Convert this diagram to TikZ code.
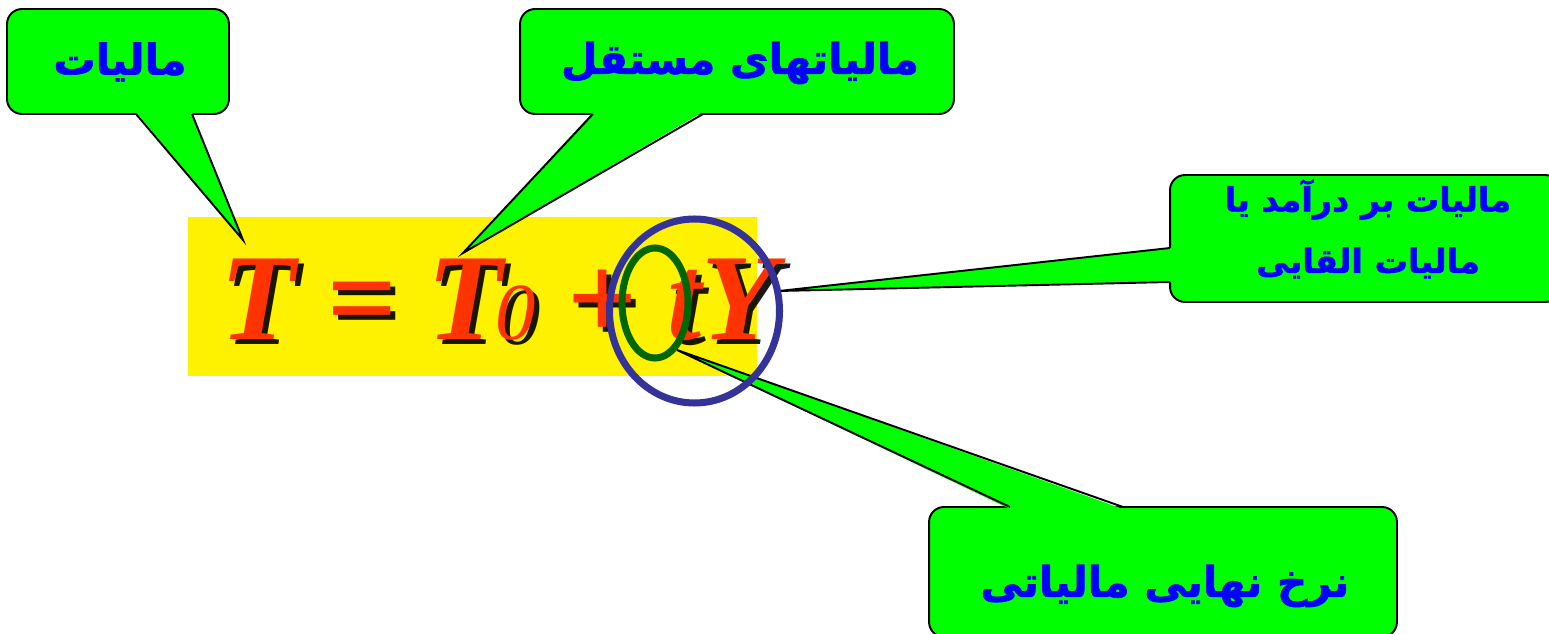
\documentclass[tikz,border=0pt]{standalone}
\usepackage{fontspec}
\newfontfamily\arabicfont[Script=Arabic, BoldFeatures={FakeBold=1.6}]{DejaVu Sans}
\newfontfamily\eqfont{Liberation Serif}
\TeXXeTstate=1
\definecolor{boxgreen}{HTML}{00FF00}
\definecolor{textblue}{HTML}{0000FF}
\definecolor{eqred}{HTML}{FF3300}
\definecolor{ringblue}{HTML}{333399}
\definecolor{ringgreen}{HTML}{006600}
\tikzset{
  callbox/.style = {draw, line width=1.1pt, fill=boxgreen, rounded corners=0.3cm, inner sep=0pt},
  calltext/.style = {text=textblue, align=center, font=\arabicfont\bfseries\fontsize{24}{30}\selectfont},
  smalltext/.style = {calltext, font=\arabicfont\bfseries\fontsize{19}{35}\selectfont},
  eqtext/.style = {inner sep=0pt, anchor=base west, font=\eqfont\bfseries\itshape\fontsize{70}{70}\selectfont}
}
\newcommand{\eqbody}{T = T\kern-4pt{\fontsize{46}{46}\selectfont\mdseries 0} + tY}
\begin{document}
\begin{tikzpicture}[x = 0.02cm, y = -0.02cm]
\useasboundingbox (0,0) rectangle (1549,634);
\clip (0,0) rectangle (1549,634);
% yellow band behind the formula
\fill[yellow] (188,217) rectangle (757,376);
\node[eqtext, text=black, opacity=0.9] (eqshadow) at (225,345) {\eqbody};
\node[eqtext, text=eqred] (eq) at (220,340) {\eqbody};
% boxes
\node[callbox, minimum width=4.44cm, minimum height=2.1cm] (tax) at (118,61.5) {};
\node[calltext] (taxtext) at (120,62) {\beginR مالیات\endR};
\node[callbox, minimum width=8.68cm, minimum height=2.1cm] (direct) at (737,61.5) {};
\node[calltext] (directtext) at (740,63) {\beginR مالیاتهای مستقل\endR};
\node[callbox, minimum width=7.8cm, minimum height=2.54cm] (income) at (1365,238.5) {};
\node[smalltext] (incometext) at (1368,229) {\beginR مالیات بر درآمد یا\endR\\ \beginR مالیات القایی\endR};
\node[callbox, minimum width=9.36cm, minimum height=2.6cm] (rate) at (1163,572) {};
\node[calltext] (ratetext) at (1165,586) {\beginR نرخ نهایی مالیاتی\endR};
% pointers
\coordinate (taxtip) at (243,240);
\coordinate (directtip) at (463,253);
\coordinate (incometip) at (779,291);
\coordinate (ratetip) at (677,350);
\fill[boxgreen] (136,112) -- (taxtip) -- (192,112) -- cycle;
\draw[line width=1.1pt, line join=miter] (136,114) -- (taxtip) -- (192,114);
\fill[boxgreen] (593,112) -- (directtip) -- (703,112) -- cycle;
\draw[line width=1.1pt, line join=miter] (593,114) -- (directtip) -- (703,114);
\fill[boxgreen] (1172,248) -- (incometip) -- (1172,282) -- cycle;
\draw[line width=1.1pt, line join=miter] (1170,248) -- (incometip) -- (1170,282);
\fill[boxgreen] (1010,509) -- (ratetip) -- (1123,509) -- cycle;
\draw[line width=1.1pt, line join=miter] (1010,507) -- (ratetip) -- (1123,507);
% rings
\draw[ringgreen, line width=4pt] (655,303) ellipse [x radius=33, y radius=55];
\draw[ringblue, line width=4pt] (694.5,311) ellipse [x radius=85, y radius=92];
\end{tikzpicture}
\end{document}
